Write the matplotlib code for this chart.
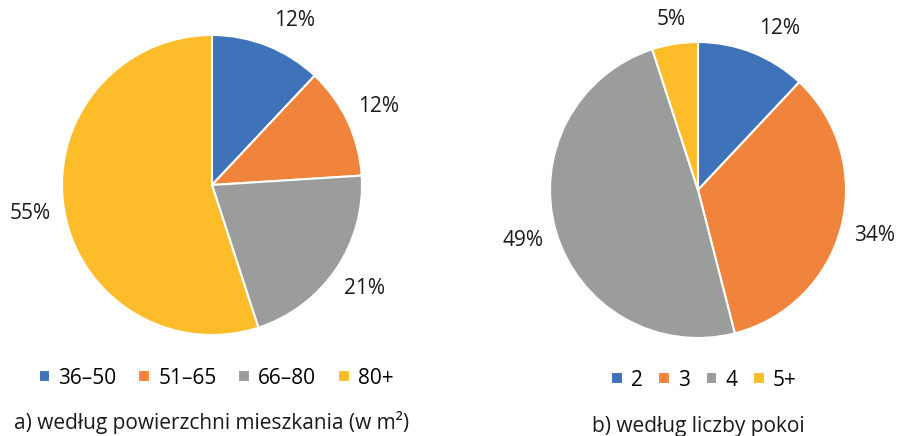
import matplotlib
matplotlib.use("Agg")
import matplotlib.pyplot as plt

plt.rcParams['font.family'] = ['Open Sans', 'DejaVu Sans']

# dane
area_labels = ["36–50", "51–65", "66–80", "80+"]
area_values = [12, 12, 21, 55]
rooms_labels = ["2", "3", "4", "5+"]
rooms_values = [12, 34, 49, 5]
colors = ["#3E73BA", "#F0843C", "#9B9D9D", "#FDBD2B"]

W, H = 900, 436
FS = 15
fig = plt.figure(figsize=(W / 100, H / 100), dpi=100)


def pie_axes(cx, cy, r):
    # pozycja osi w pikselach (y od góry)
    return fig.add_axes([(cx - r) / W, (H - cy - r) / H, 2 * r / W, 2 * r / H])


def draw_pie(ax, values):
    wedges, _, texts = ax.pie(values, colors=colors, startangle=90, counterclock=False,
                              autopct="%d%%", pctdistance=1.23,
                              wedgeprops=dict(edgecolor="white", linewidth=1.5),
                              textprops=dict(fontsize=FS, color="#1a1a1a"))
    ax.set_xlim(-1, 1)
    ax.set_ylim(-1, 1)
    ax.set_aspect("equal")
    for t in texts:
        t.set_clip_on(False)
    # etykieta pierwszego wycinka lekko w prawo i w dół, jak w Excelu
    x, y = texts[0].get_position()
    texts[0].set_position((x + 0.1, y - 0.05))
    return wedges, texts


ax1 = pie_axes(212, 185, 150)
w1, _ = draw_pie(ax1, area_values)
ax2 = pie_axes(698, 190, 148)
w2, t2 = draw_pie(ax2, rooms_values)
# mały wycinek 5+ - etykieta bliżej koła
x, y = t2[-1].get_position()
t2[-1].set_position((x * 0.95, y * 0.95))

leg_kw = dict(loc="center", ncol=4, frameon=False, fontsize=FS, handlelength=0.55,
              handleheight=0.55, handletextpad=0.4, borderpad=0)
fig.legend(w1, area_labels, bbox_to_anchor=(216 / W, 1 - 378 / H), columnspacing=1.05, **leg_kw)
fig.legend(w2, rooms_labels, bbox_to_anchor=(704 / W, 1 - 380 / H), columnspacing=0.75, **leg_kw)

fig.text(212 / W, 1 - 422 / H, "a) według powierzchni mieszkania (w m²)", ha="center", va="center",
         fontsize=FS, color="#1a1a1a")
fig.text(698 / W, 1 - 426 / H, "b) według liczby pokoi", ha="center", va="center",
         fontsize=FS, color="#1a1a1a")

fig.savefig("out.png", dpi=100)
